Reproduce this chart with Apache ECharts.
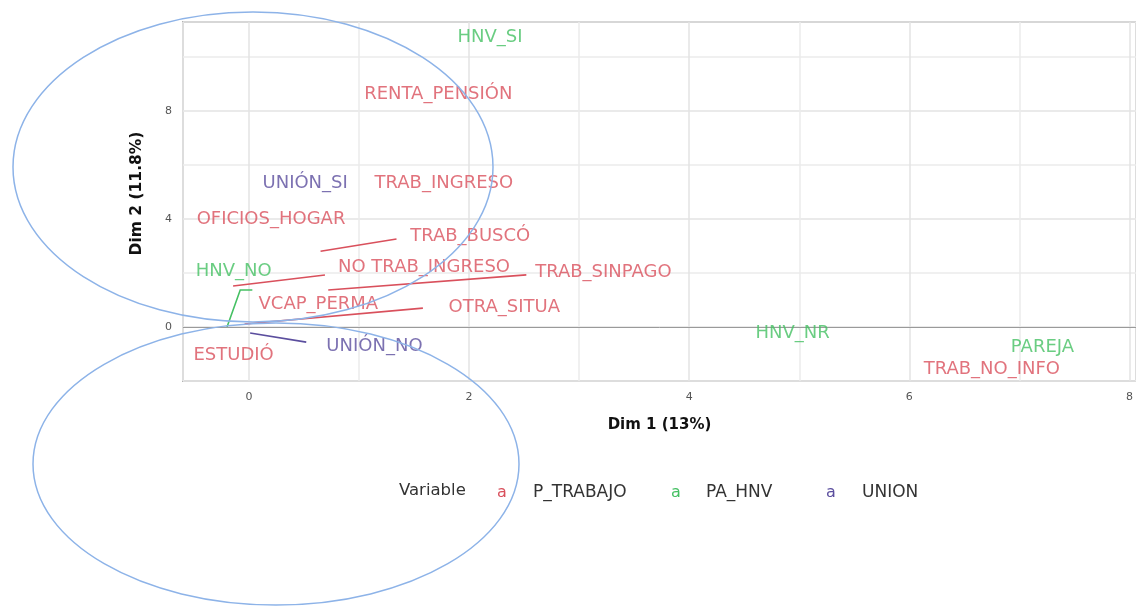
<!DOCTYPE html>
<html><head><meta charset="utf-8">
<script src="https://cdn.jsdelivr.net/npm/echarts@6/dist/echarts.min.js"></script>
<style>html,body{margin:0;padding:0;background:#fff}#c{width:1136px;height:607px}</style>
</head><body><div id="c"></div>
<script>
// label positions (Dim 1, Dim 2)
const trabajoNames = ['RENTA_PENSIÓN','TRAB_INGRESO','OFICIOS_HOGAR','TRAB_BUSCÓ','NO TRAB_INGRESO','TRAB_SINPAGO','VCAP_PERMA','OTRA_SITUA','ESTUDIÓ','TRAB_NO_INFO'];
const trabajoX = [1.72, 1.77, 0.20, 2.01, 1.59, 3.22, 0.63, 2.32, -0.14, 6.75];
const trabajoY = [8.63, 5.33, 4.00, 3.37, 2.22, 2.04, 0.85, 0.74, -1.04, -1.56];
const hnvNames = ['HNV_SI','HNV_NO','HNV_NR','PAREJA'];
const hnvX = [2.19, -0.14, 4.94, 7.21];
const hnvY = [10.74, 2.07, -0.22, -0.74];
const unionNames = ['UNIÓN_SI','UNIÓN_NO'];
const unionX = [0.51, 1.14];
const unionY = [5.33, -0.70];
// repel segments (point -> label)
const trabajoSegs = [
  [[0.65, 2.81], [1.34, 3.26]],
  [[-0.145, 1.52], [0.69, 1.93]],
  [[0.72, 1.37], [2.52, 1.93]],
  [[-0.04, 0.11], [1.58, 0.70]]
];
const hnvSegs = [[[-0.20, 0.0], [-0.08, 1.37], [0.03, 1.37]]];
const unionSegs = [[[0.01, -0.22], [0.52, -0.56]]];
const seriesNames = ['P_TRABAJO','PA_HNV','UNION'];
const colors = ['#d9505c','#45c063','#5b4e9e'];

const FONT = 'DejaVu Sans';
function pts(xs, ys, names){ return names.map((n,i)=>[xs[i], ys[i], n]); }
function scat(name, data, color){
  return {type:'scatter', name, data, symbolSize:0, itemStyle:{color}, z:5,
    label:{show:true, position:'inside', formatter:p=>p.data[2], color, fontFamily:FONT, fontSize:18}};
}
function segs(name, list, color){
  return {type:'lines', name, coordinateSystem:'cartesian2d', polyline:true, z:4,
    lineStyle:{color, width:1.6, opacity:1}, data:list.map(c=>({coords:c}))};
}
const legendLeft = [486, 660, 815];
const legendA = [36, 35, 36];
const chart = echarts.init(document.getElementById('c'), null, {renderer:'canvas'});
const option = {
  animation:false,
  textStyle:{fontFamily:FONT},
  grid:{left:183, top:22, right:0, bottom:226, show:true, borderColor:'#b3b3b3', borderWidth:2, backgroundColor:'#fff'},
  xAxis:{type:'value', min:-0.6, max:8.06, minInterval:1, maxInterval:1, splitNumber:9,
    name:'Dim 1 (13%)', nameLocation:'middle', nameGap:37,
    nameTextStyle:{fontWeight:'bold', fontSize:15, color:'#111', fontFamily:FONT},
    axisLine:{show:false}, axisTick:{show:false},
    axisLabel:{showMinLabel:false, showMaxLabel:false, color:'#555', fontSize:11, margin:11, fontFamily:FONT,
      formatter:v=> (Math.abs(v%2)<1e-9 ? String(v) : '')},
    splitLine:{show:true, lineStyle:{color:['#ebebeb','#e3e3e3'], width:1.5}}},
  yAxis:{type:'value', min:-2, max:11.3, interval:2,
    name:'Dim 2 (11.8%)', nameLocation:'middle', nameGap:38, nameRotate:90,
    nameTextStyle:{fontWeight:'bold', fontSize:15.5, color:'#111', fontFamily:FONT, padding:[0,0,0,16]},
    axisLine:{show:false}, axisTick:{show:false},
    axisLabel:{showMaxLabel:false, color:'#555', fontSize:11, margin:11, fontFamily:FONT,
      formatter:v=> (Math.abs(v%4)<1e-9 ? String(v) : '')},
    splitLine:{show:true, lineStyle:{color:['#ebebeb','#e3e3e3'], width:1.5}}},
  legend: seriesNames.map((n,i)=>({left:legendLeft[i], top:479, itemWidth:0, itemHeight:0, selectedMode:false,
    data:[{name:n, icon:'rect', itemStyle:{opacity:0}}],
    textStyle:{rich:{a:{color:colors[i], fontSize:16, width:legendA[i], fontFamily:FONT},
                     n:{color:'#333', fontSize:17, fontFamily:FONT}}},
    formatter:nm=>'{a|a}{n|'+nm+'}'})),
  graphic:[
    {type:'text', left:399, top:482, style:{text:'Variable', fill:'#333', font:'16.5px "DejaVu Sans"'}},
    {type:'ellipse', shape:{cx:253, cy:167, rx:240, ry:155}, style:{fill:'none', stroke:'#8db3e8', lineWidth:1.5}, z:100},
    {type:'ellipse', shape:{cx:276, cy:464, rx:243, ry:141}, style:{fill:'none', stroke:'#8db3e8', lineWidth:1.5}, z:100}
  ],
  series:[
    {type:'line', data:[], markLine:{silent:true, symbol:'none', label:{show:false},
      lineStyle:{color:'#9a9a9a', type:'solid', width:1}, data:[{yAxis:0}]}},
    segs('P_TRABAJO', trabajoSegs, colors[0]),
    segs('PA_HNV', hnvSegs, colors[1]),
    segs('UNION', unionSegs, colors[2]),
    scat('P_TRABAJO', pts(trabajoX, trabajoY, trabajoNames), colors[0]),
    scat('PA_HNV', pts(hnvX, hnvY, hnvNames), colors[1]),
    scat('UNION', pts(unionX, unionY, unionNames), colors[2])
  ]
};
chart.setOption(option);
</script></body></html>
